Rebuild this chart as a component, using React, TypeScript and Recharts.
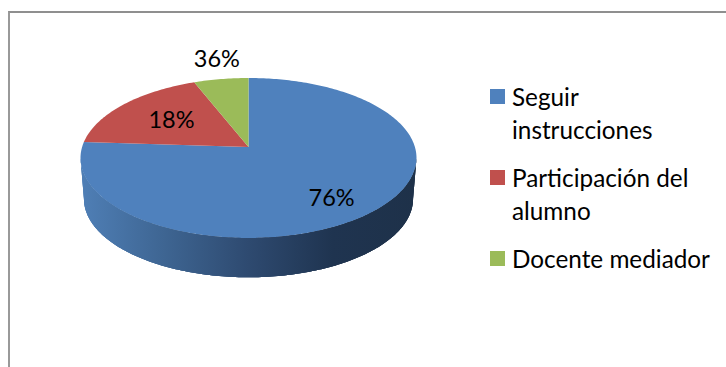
import { Legend, Pie, PieChart } from "recharts";

const sliceNames = ["Seguir\ninstrucciones", "Participación del\nalumno", "Docente mediador"];
const sliceValues = [76, 18, 6];
// the third slice is a 6 share, but its printed label reads 36%
const sliceLabels = ["76%", "18%", "36%"];
const sliceColors = ["#4f81bd", "#c0504d", "#9bbb59"];

const rows = sliceNames.map((name, i) => ({ name, value: sliceValues[i], fill: sliceColors[i] }));

const FONT = "Lato, 'Open Sans', sans-serif";

// tilted disc: unit circle pushed through a small perspective divide
const APEX = { x: 248.5, y: 147 };
const TILT = 0.1375;
const WIDE = 166.4;
const TALL = 78.5;
const BASE = { x: 248.5, y: 188, wide: 163, tall: 77 };

function onDisc(deg: number, r = 1) {
  const a = (deg * Math.PI) / 180;
  const u = r * Math.cos(a);
  const v = r * Math.sin(a);
  const w = 1 + TILT * v;
  return { x: APEX.x + (WIDE * u) / w, y: APEX.y - (TALL * v) / w };
}

function onBase(deg: number) {
  const a = (deg * Math.PI) / 180;
  const u = Math.cos(a);
  const v = Math.sin(a);
  const w = 1 + TILT * v;
  return { x: BASE.x + (BASE.wide * u) / w, y: BASE.y - (BASE.tall * v) / w };
}

function toPath(points: { x: number; y: number }[]) {
  return points.map((p, i) => `${i ? "L" : "M"}${p.x.toFixed(2)} ${p.y.toFixed(2)}`).join(" ") + " Z";
}

function sweep(from: number, to: number) {
  const steps = Math.max(2, Math.ceil(Math.abs(to - from)));
  return Array.from({ length: steps + 1 }, (_, i) => from + ((to - from) * i) / steps);
}

function DiscSlice(props: any) {
  const { startAngle, endAngle, fill } = props;
  const top = [APEX, ...sweep(startAngle, endAngle).map((d) => onDisc(d))];
  // only the slice that crosses the front half of the disc shows a side wall,
  // running between the disc's two widest points
  const hasWall = endAngle <= -90;
  const wallTop = sweep(-172, -8).map((d) => onDisc(d));
  const wallBottom = sweep(-8, -172).map((d) => onBase(d));
  return (
    <g>
      {hasWall && (
        <>
          <defs>
            <linearGradient id="wallShade" x1="0" y1="0" x2="1" y2="0">
              <stop offset="0" stopColor="#4f7fb6" />
              <stop offset="0.25" stopColor="#3e6592" />
              <stop offset="0.5" stopColor="#2e4a70" />
              <stop offset="0.75" stopColor="#1f3450" />
              <stop offset="1" stopColor="#1e3149" />
            </linearGradient>
          </defs>
          <path d={toPath([...wallTop, ...wallBottom])} fill="url(#wallShade)" />
        </>
      )}
      <path d={toPath(top)} fill={fill} />
    </g>
  );
}

// radius along the slice's middle, plus a small nudge
const labelSpots = [
  { r: 0.68, dx: 0, dy: 8 },
  { r: 0.6, dx: 0, dy: -1.5 },
  { r: 1.35, dx: 4, dy: -1 },
];

function SliceLabel(props: any) {
  const { midAngle, index } = props;
  const spot = labelSpots[index];
  const p = onDisc(midAngle, spot.r);
  return (
    <text x={p.x + spot.dx} y={p.y + spot.dy} textAnchor="middle" dominantBaseline="central" fontSize={23.5} fontFamily={FONT} fill="#000">
      {sliceLabels[index]}
    </text>
  );
}

function SliceLegend() {
  return (
    <div style={{ fontFamily: FONT, fontSize: 24.3, lineHeight: "33px", color: "#000" }}>
      {rows.map((row) => (
        <div key={row.name} style={{ position: "relative", paddingLeft: 22, marginBottom: 15, whiteSpace: "pre-line" }}>
          <span style={{ position: "absolute", left: 0, top: 9, width: 15, height: 15, background: row.fill }} />
          {row.name}
        </div>
      ))}
    </div>
  );
}

export default function App() {
  return (
    <div style={{ position: "absolute", left: 0, top: 0, width: 726, height: 367, background: "#fff", overflow: "hidden" }}>
      <div style={{ position: "absolute", left: 8, top: 11, width: 718, height: 356, borderTop: "2px solid #8f8f8f", borderLeft: "2px solid #999" }} />
      <div style={{ position: "absolute", left: 0, top: 0 }}>
        <PieChart width={726} height={367} margin={{ top: 0, right: 0, bottom: 0, left: 0 }}>
          <Pie
            data={rows}
            dataKey="value"
            nameKey="name"
            cx={248}
            cy={147}
            outerRadius={160}
            startAngle={90}
            endAngle={-270}
            stroke="none"
            paddingAngle={0}
            shape={DiscSlice}
            label={SliceLabel}
            labelLine={false}
            isAnimationActive={false}
          />
          <Legend content={SliceLegend} layout="vertical" align="right" verticalAlign="top" wrapperStyle={{ left: 490, top: 80, width: 236 }} />
        </PieChart>
      </div>
    </div>
  );
}
